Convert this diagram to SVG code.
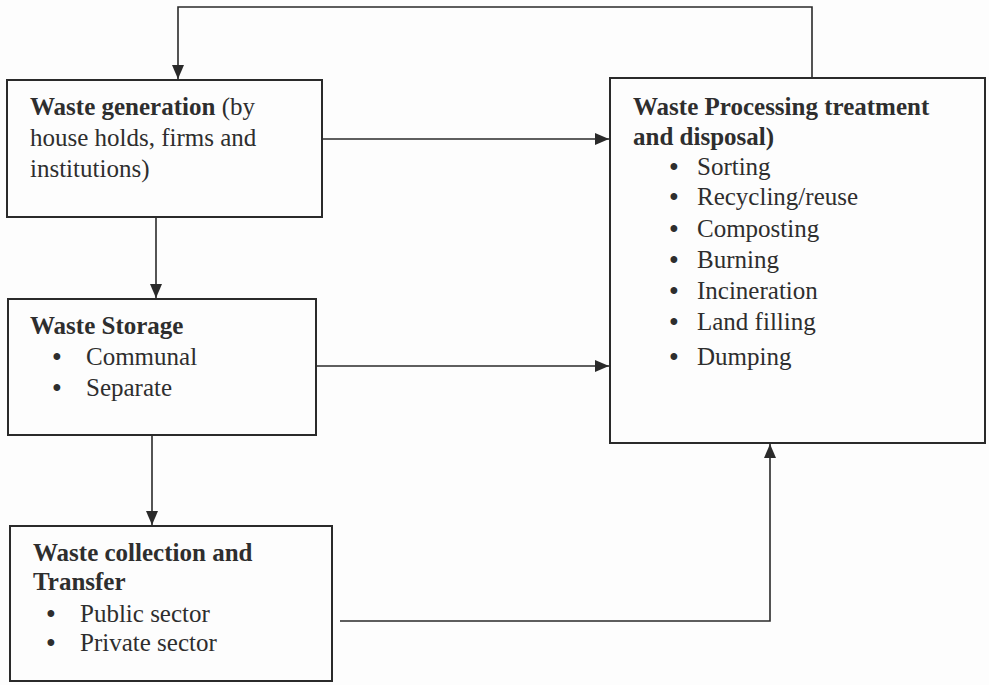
<svg xmlns="http://www.w3.org/2000/svg" width="989" height="685" viewBox="0 0 989 685">
<defs>
<style>
.box{fill:none;stroke:#2a2a2a;stroke-width:2}
.ln{fill:none;stroke:#2a2a2a;stroke-width:1.6}
text{font-family:"Liberation Serif","Times New Roman",serif;font-size:25px;fill:#2e2e2e}
.b{font-weight:bold}
.bu{text-anchor:middle;font-weight:bold}
</style>
<marker id="ah" viewBox="0 0 14 12" refX="14" refY="6" markerWidth="14" markerHeight="12" markerUnits="userSpaceOnUse" orient="auto">
<path d="M0,0 L14,6 L0,12 Z" fill="#2a2a2a"/>
</marker>
</defs>
<rect width="989" height="685" fill="#fdfdfd"/>
<g id="connectors">
<path class="ln" d="M812,77 V7 H178 V79" marker-end="url(#ah)"/>
<path class="ln" d="M322,139 H609" marker-end="url(#ah)"/>
<path class="ln" d="M156,217 V298" marker-end="url(#ah)"/>
<path class="ln" d="M316,366 H609" marker-end="url(#ah)"/>
<path class="ln" d="M152,435 V525" marker-end="url(#ah)"/>
<path class="ln" d="M340,621 H770 V444" marker-end="url(#ah)"/>
</g>
<g id="waste-generation">
<rect class="box" x="7" y="80" width="315" height="137"/>
<text x="30" y="115"><tspan class="b">Waste generation</tspan> (by</text>
<text x="30" y="146">house holds, firms and</text>
<text x="30" y="177">institutions)</text>
</g>
<g id="waste-storage">
<rect class="box" x="8" y="299" width="308" height="136"/>
<text class="b" x="30" y="334">Waste Storage</text>
<text class="bu" x="57" y="365">•</text><text x="86" y="365">Communal</text>
<text class="bu" x="57" y="396">•</text><text x="86" y="396">Separate</text>
</g>
<g id="waste-collection">
<rect class="box" x="10" y="526" width="322" height="155"/>
<text class="b" x="33" y="561">Waste collection and</text>
<text class="b" x="33" y="590">Transfer</text>
<text class="bu" x="51" y="622">•</text><text x="80" y="622">Public sector</text>
<text class="bu" x="51" y="651">•</text><text x="80" y="651">Private sector</text>
</g>
<g id="waste-processing">
<rect class="box" x="610" y="78" width="375" height="365"/>
<text class="b" x="633" y="115">Waste Processing treatment</text>
<text class="b" x="633" y="145">and disposal)</text>
<text class="bu" x="674" y="175">•</text><text x="697" y="175">Sorting</text>
<text class="bu" x="674" y="205">•</text><text x="697" y="205">Recycling/reuse</text>
<text class="bu" x="674" y="237">•</text><text x="697" y="237">Composting</text>
<text class="bu" x="674" y="268">•</text><text x="697" y="268">Burning</text>
<text class="bu" x="674" y="299">•</text><text x="697" y="299">Incineration</text>
<text class="bu" x="674" y="330">•</text><text x="697" y="330">Land filling</text>
<text class="bu" x="674" y="365">•</text><text x="697" y="365">Dumping</text>
</g>
</svg>
